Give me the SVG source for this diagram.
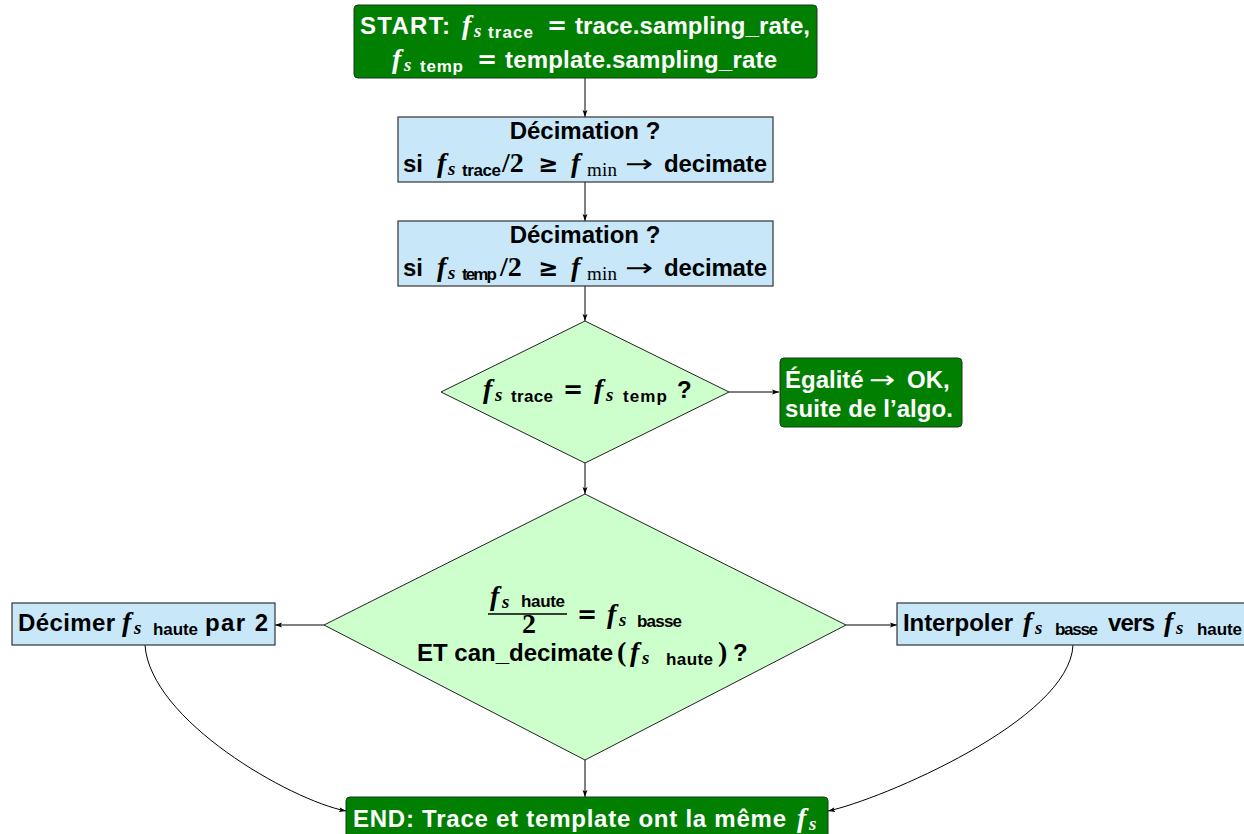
<svg xmlns="http://www.w3.org/2000/svg" width="1244" height="834" viewBox="0 0 1244 834">
<defs>
<marker id="arr" viewBox="0 0 10 10" refX="10" refY="5" markerWidth="7" markerHeight="7" markerUnits="userSpaceOnUse" orient="auto">
<path d="M0,1.5 L10,5 L0,8.5 L2,5 Z" fill="#000"/>
</marker>
<style>
text{fill:#000}
.t{font-family:"Liberation Sans",Arial,sans-serif;font-weight:bold;font-size:24px}
.sub{font-family:"Liberation Sans",Arial,sans-serif;font-weight:bold;font-size:17px}
.f{font-family:"Liberation Serif","DejaVu Serif",serif;font-style:italic;font-weight:bold;font-size:28px}
.s{font-family:"Liberation Serif","DejaVu Serif",serif;font-style:italic;font-weight:bold;font-size:19px}
.r{font-family:"Liberation Serif","DejaVu Serif",serif;font-weight:bold;font-size:28px}
.min{font-family:"Liberation Serif",serif;font-size:19px}
.op{font-family:"DejaVu Sans",sans-serif;font-weight:bold;font-size:24px}
.ar{font-family:"DejaVu Sans",sans-serif;font-size:24px}
.w{fill:#fff}
.green{fill:#007f00;stroke:#1a3a1a;stroke-width:1}
.blue{fill:#c8e8fa;stroke:#333;stroke-width:1.2}
.dia{fill:#ccffcc;stroke:#222;stroke-width:1}
.c{fill:none;stroke:#000;stroke-width:1;marker-end:url(#arr)}
</style>
</defs>
<g id="connectors">
<line class="c" x1="585" y1="78" x2="585" y2="117"/>
<line class="c" x1="585" y1="182" x2="585" y2="221"/>
<line class="c" x1="585" y1="286" x2="585" y2="321"/>
<line class="c" x1="729" y1="392" x2="779" y2="392"/>
<line class="c" x1="585" y1="463" x2="585" y2="494"/>
<line class="c" x1="324" y1="625" x2="275" y2="625"/>
<line class="c" x1="846" y1="625" x2="897" y2="625"/>
<line class="c" x1="585" y1="760" x2="585" y2="797"/>
<path class="c" d="M145,645 C150,720 290,800 346,811"/>
<path class="c" d="M1073,645 C1070,720 880,800 828,811"/>
</g>
<g id="start">
<rect class="green" x="354" y="5" width="463" height="73" rx="4"/>
<text class="t w" x="360" y="34" textLength="90">START:</text>
<text class="f w" x="462" y="34">f</text>
<text class="s w" x="474" y="37">s</text>
<text class="sub w" x="488" y="38" textLength="45">trace</text>
<text class="op w" x="547" y="34">=</text>
<text class="t w" x="575" y="34" textLength="235">trace.sampling_rate,</text>
<text class="f w" x="392" y="68">f</text>
<text class="s w" x="404" y="71">s</text>
<text class="sub w" x="420" y="72" textLength="43">temp</text>
<text class="op w" x="477" y="68">=</text>
<text class="t w" x="505" y="68" textLength="272">template.sampling_rate</text>
</g>
<g id="decim1">
<rect class="blue" x="398" y="117" width="375" height="65"/>
<text class="t" x="585" y="139" text-anchor="middle">Décimation ?</text>
<text class="t" x="403" y="172">si</text>
<text class="f" x="437" y="172">f</text>
<text class="s" x="448" y="175">s</text>
<text class="sub" x="462" y="176" textLength="39">trace</text>
<text class="r" x="502" y="172" font-size="30">/2</text>
<text class="op" x="538" y="172">≥</text>
<text class="f" x="571" y="172">f</text>
<text class="min" x="587" y="176" textLength="30">min</text>
<text class="ar" transform="translate(625,172) scale(1.4,1)">→</text>
<text class="t" x="664" y="172" textLength="103">decimate</text>
</g>
<g id="decim2">
<rect class="blue" x="398" y="221" width="375" height="65"/>
<text class="t" x="585" y="243" text-anchor="middle">Décimation ?</text>
<text class="t" x="403" y="276">si</text>
<text class="f" x="437" y="276">f</text>
<text class="s" x="448" y="279">s</text>
<text class="sub" x="462" y="280" textLength="35">temp</text>
<text class="r" x="500" y="276" font-size="30">/2</text>
<text class="op" x="538" y="276">≥</text>
<text class="f" x="571" y="276">f</text>
<text class="min" x="587" y="280" textLength="30">min</text>
<text class="ar" transform="translate(625,276) scale(1.4,1)">→</text>
<text class="t" x="664" y="276" textLength="103">decimate</text>
</g>
<g id="eq">
<polygon class="dia" points="585,321 729,392 585,463 441,392"/>
<text class="f" x="483" y="398">f</text>
<text class="s" x="495" y="401">s</text>
<text class="sub" x="511" y="402" textLength="42">trace</text>
<text class="op" x="563" y="398">=</text>
<text class="f" x="594" y="398">f</text>
<text class="s" x="606" y="401">s</text>
<text class="sub" x="623" y="402" textLength="44">temp</text>
<text class="t" x="677" y="398">?</text>
</g>
<g id="ok">
<rect class="green" x="780" y="358" width="182" height="69" rx="4"/>
<text class="t w" x="785" y="388">Égalité</text>
<text class="ar w" transform="translate(869,388) scale(1.3,1)">→</text>
<text class="t w" x="907" y="388">OK,</text>
<text class="t w" x="785" y="417" textLength="168">suite de l’algo.</text>
</g>
<g id="cond">
<polygon class="dia" points="585,494 846,625 585,760 324,625"/>
<text class="f" x="490" y="605">f</text>
<text class="s" x="502" y="608">s</text>
<text class="sub" x="521" y="607" textLength="44">haute</text>
<line x1="488" y1="614" x2="567" y2="614" stroke="#000" stroke-width="1.5"/>
<text class="r" x="522" y="633" font-size="22">2</text>
<text class="op" x="577" y="623">=</text>
<text class="f" x="607" y="623">f</text>
<text class="s" x="619" y="626">s</text>
<text class="sub" x="637" y="627" textLength="45">basse</text>
<text class="t" x="417" y="661" textLength="196">ET can_decimate</text>
<text class="r" x="617" y="661">(</text>
<text class="f" x="630" y="661">f</text>
<text class="s" x="642" y="664">s</text>
<text class="sub" x="666" y="665" textLength="47">haute</text>
<text class="r" x="718" y="661">)</text>
<text class="t" x="733" y="661">?</text>
</g>
<g id="decimer">
<rect class="blue" x="12" y="603" width="263" height="42"/>
<text class="t" x="18" y="631" textLength="97">Décimer</text>
<text class="f" x="122" y="631">f</text>
<text class="s" x="134" y="634">s</text>
<text class="sub" x="153" y="635" textLength="45">haute</text>
<text class="t" x="205" y="631" textLength="63">par 2</text>
</g>
<g id="interp">
<rect class="blue" x="897" y="603" width="360" height="42"/>
<text class="t" x="903" y="631" textLength="110">Interpoler</text>
<text class="f" x="1023" y="631">f</text>
<text class="s" x="1035" y="634">s</text>
<text class="sub" x="1055" y="635" textLength="43">basse</text>
<text class="t" x="1108" y="631" textLength="47">vers</text>
<text class="f" x="1164" y="631">f</text>
<text class="s" x="1176" y="634">s</text>
<text class="sub" x="1197" y="635" textLength="45">haute</text>
</g>
<g id="end">
<rect class="green" x="346" y="797" width="482" height="45" rx="4"/>
<text class="t w" x="353" y="827" textLength="433">END: Trace et template ont la même</text>
<text class="f w" x="797" y="827">f</text>
<text class="s w" x="809" y="830">s</text>
</g>
</svg>
